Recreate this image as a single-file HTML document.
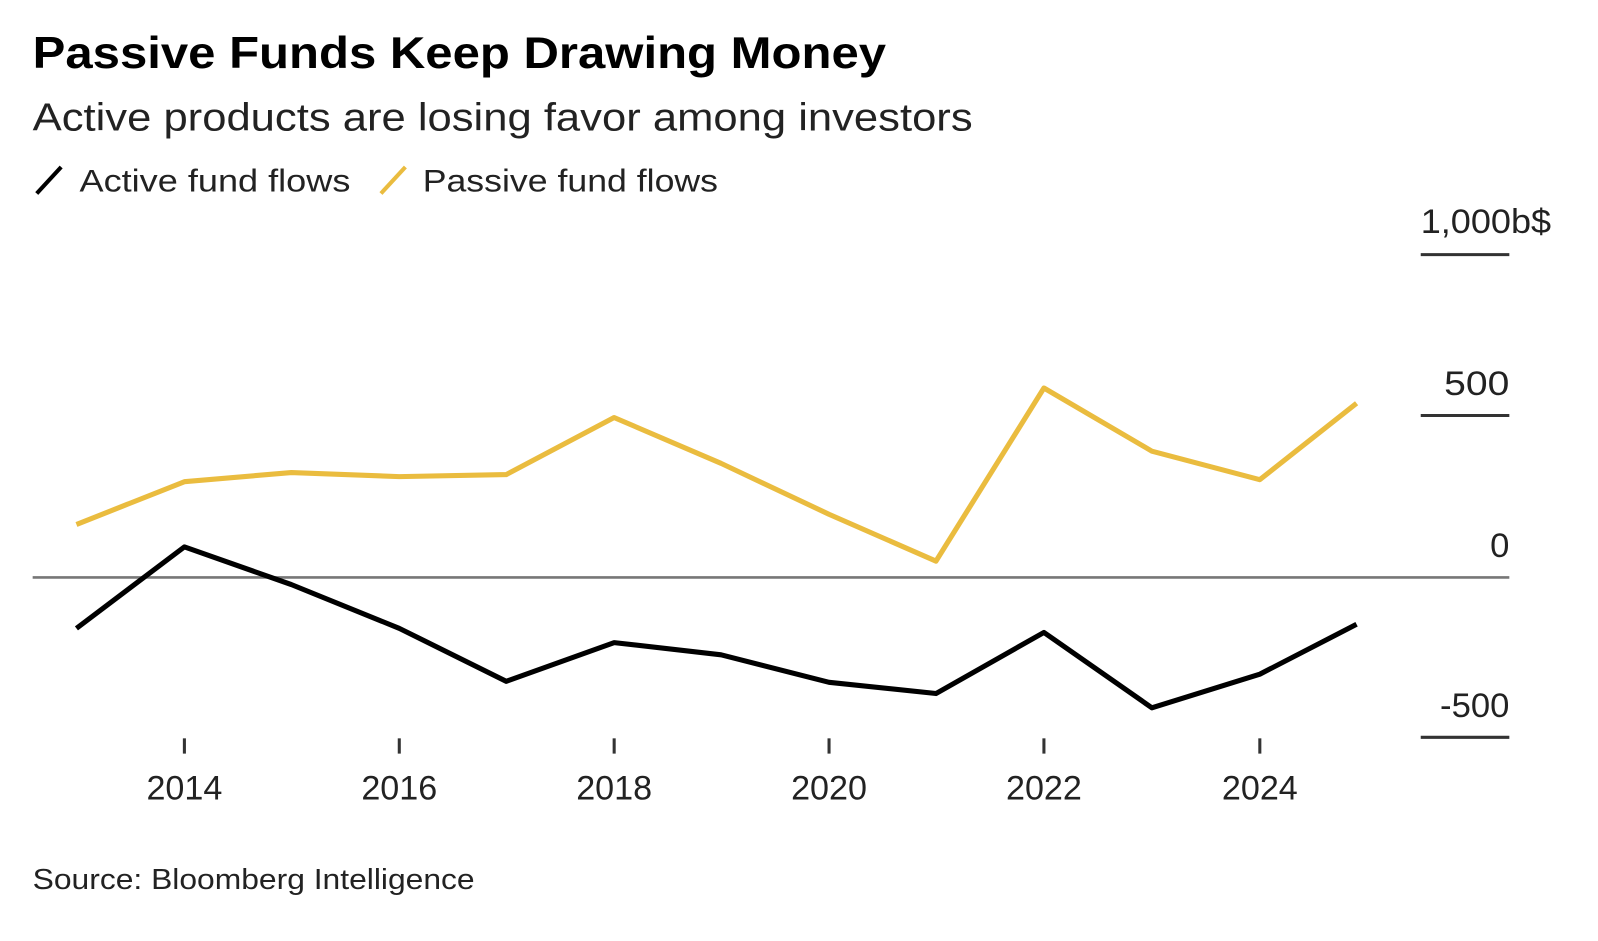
<!DOCTYPE html>
<html><head><meta charset="utf-8"><style>
html,body{margin:0;padding:0;background:#fff;}
svg{display:block;font-family:"Liberation Sans",sans-serif;}
</style></head><body>
<svg width="1598" height="941" viewBox="0 0 1569 924" xmlns="http://www.w3.org/2000/svg">
<rect width="1569" height="924" fill="#fff"/>
<text x="32" y="67" font-size="44" font-weight="bold" fill="#000" textLength="838" lengthAdjust="spacingAndGlyphs">Passive Funds Keep Drawing Money</text>
<text x="32" y="128" font-size="38" fill="#222" textLength="923" lengthAdjust="spacingAndGlyphs">Active products are losing favor among investors</text>
<line x1="36" y1="190" x2="60" y2="164" stroke="#000" stroke-width="4"/>
<text x="78" y="188" font-size="31" fill="#222" textLength="266" lengthAdjust="spacingAndGlyphs">Active fund flows</text>
<line x1="374" y1="190" x2="398" y2="164" stroke="#eabc3f" stroke-width="4"/>
<text x="415" y="188" font-size="31" fill="#222" textLength="290" lengthAdjust="spacingAndGlyphs">Passive fund flows</text>
<g font-size="34" fill="#222">
<text x="1395" y="229" textLength="128" lengthAdjust="spacingAndGlyphs">1,000b$</text>
<text x="1418" y="388" textLength="64" lengthAdjust="spacingAndGlyphs">500</text>
<text x="1482" y="547" text-anchor="end">0</text>
<text x="1482" y="704" text-anchor="end">-500</text>
</g>
<g stroke="#333" stroke-width="3">
<line x1="1395" y1="250" x2="1482" y2="250"/>
<line x1="1395" y1="408" x2="1482" y2="408"/>
<line x1="1395" y1="724" x2="1482" y2="724"/>
</g>
<line x1="32" y1="567" x2="1482" y2="567" stroke="#777" stroke-width="2.5"/>
<g stroke="#333" stroke-width="3">
<line x1="181" y1="725" x2="181" y2="740"/><line x1="392" y1="725" x2="392" y2="740"/>
<line x1="603" y1="725" x2="603" y2="740"/><line x1="814" y1="725" x2="814" y2="740"/>
<line x1="1025" y1="725" x2="1025" y2="740"/><line x1="1237" y1="725" x2="1237" y2="740"/>
</g>
<g font-size="33.5" fill="#222" text-anchor="middle">
<text x="181" y="785">2014</text><text x="392" y="785">2016</text><text x="603" y="785">2018</text>
<text x="814" y="785">2020</text><text x="1025" y="785">2022</text><text x="1237" y="785">2024</text>
</g>
<polyline fill="none" stroke="#eabc3f" stroke-width="5" stroke-linejoin="round" points="75,515 181,473 286,464 392,468 497,466 603,410 708,455 814,505 919,551 1025,381 1131,443 1237,471 1332,396"/>
<polyline fill="none" stroke="#000" stroke-width="5" stroke-linejoin="round" points="75,617 181,537 286,574 392,617 497,669 603,631 708,643 814,670 919,681 1025,621 1131,695 1237,662 1332,613"/>
<text x="32" y="873" font-size="28" fill="#222" textLength="434" lengthAdjust="spacingAndGlyphs">Source: Bloomberg Intelligence</text>
</svg>
</body></html>
